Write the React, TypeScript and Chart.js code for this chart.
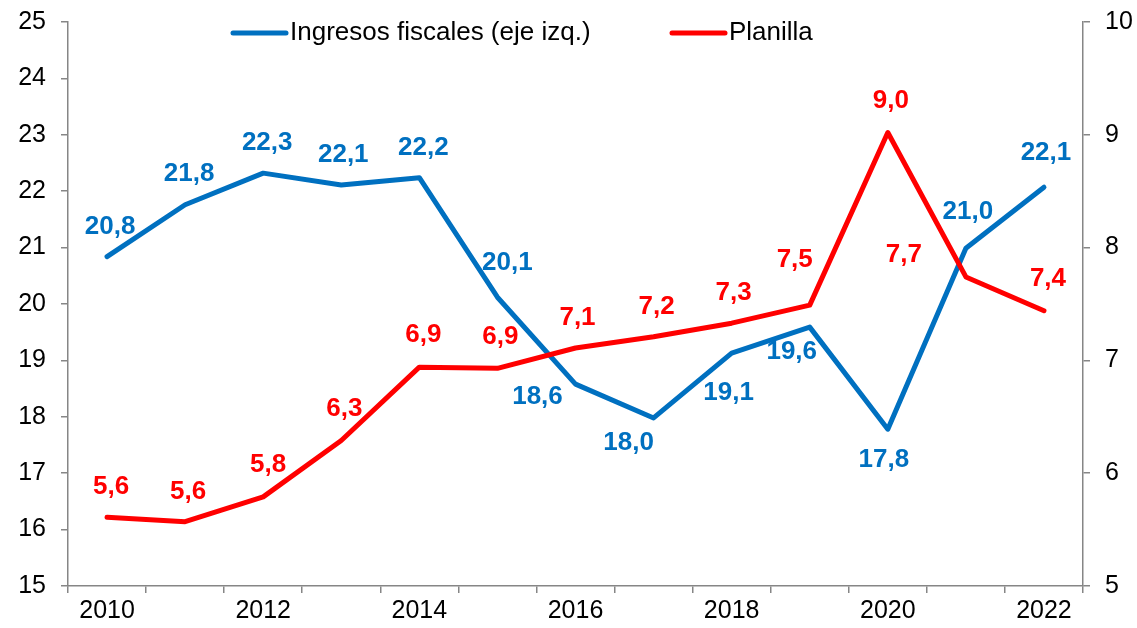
import React, { useEffect, useRef } from "react";
import { Chart, registerables } from "chart.js";

Chart.register(...registerables);

const years = ["2010", "2011", "2012", "2013", "2014", "2015", "2016", "2017", "2018", "2019", "2020", "2021", "2022"];
const ingresosFiscales = [20.84, 21.76, 22.32, 22.11, 22.24, 20.12, 18.58, 17.98, 19.13, 19.59, 17.78, 20.99, 22.07];
const planilla = [5.61, 5.57, 5.79, 6.29, 6.94, 6.93, 7.11, 7.21, 7.33, 7.49, 9.02, 7.74, 7.44];
const leftTicks = { min: 15, max: 25, step: 1 };
const rightTicks = { min: 5, max: 10, step: 1 };
const seriesNames = ["Ingresos fiscales (eje izq.)", "Planilla"];

const BLUE = "#0070C0";
const RED = "#FF0000";
const AXIS = "#868686";
const FONT = "'Liberation Sans', Arial, sans-serif";

// label offsets relative to each point (styling only)
const blueLabelOffsets = [[3, -30], [4, -31], [4, -30], [2, -30], [4, -30], [10, -34], [-38, 13], [-25, 25], [-3, 40], [-18, 25], [-4, 31], [2, -36], [2, -34]];
const redLabelOffsets = [[4, -30], [3, -30], [5, -32], [3, -32], [4, -32], [3, -31], [2, -30], [3, -30], [2, -30], [-15, -45], [3, -32], [-62, -22], [4, -32]];

const fmt = (v: number) => v.toFixed(1).replace(".", ",");

const labelPlugin = {
  id: "pointLabels",
  afterDatasetsDraw(chart: any) {
    const ctx = chart.ctx;
    ctx.save();
    ctx.font = `bold 26px ${FONT}`;
    ctx.textAlign = "center";
    ctx.textBaseline = "middle";
    chart.data.datasets.forEach((ds: any, di: number) => {
      const meta = chart.getDatasetMeta(di);
      const offs = ds.yAxisID === "y" ? blueLabelOffsets : redLabelOffsets;
      ctx.fillStyle = ds.borderColor;
      meta.data.forEach((pt: any, i: number) => {
        const o = offs[i] || [0, -30];
        ctx.fillText(fmt(ds.data[i]), pt.x + o[0], pt.y + o[1]);
      });
    });
    ctx.restore();
  },
};

const legendPlugin = {
  id: "customLegend",
  afterDraw(chart: any) {
    const ctx = chart.ctx;
    const y = chart.chartArea.top + 11;
    const items = [
      { name: seriesNames[0], color: BLUE, x: 233 },
      { name: seriesNames[1], color: RED, x: 672 },
    ];
    ctx.save();
    ctx.font = `26px ${FONT}`;
    ctx.textBaseline = "middle";
    ctx.textAlign = "left";
    items.forEach((it) => {
      ctx.strokeStyle = it.color;
      ctx.lineWidth = 5;
      ctx.lineCap = "round";
      ctx.beginPath();
      ctx.moveTo(it.x, y);
      ctx.lineTo(it.x + 53, y);
      ctx.stroke();
      ctx.fillStyle = "#000";
      ctx.fillText(it.name, it.x + 57, y);
    });
    ctx.restore();
  },
};

const fitY = (w: number) => (s: any) => {
  s.width = w;
  s.paddingTop = 0;
  s.paddingBottom = 0;
};

export default function App() {
  const ref = useRef<HTMLCanvasElement | null>(null);
  useEffect(() => {
    if (!ref.current) return;
    const chart = new Chart(ref.current, {
      type: "line",
      data: {
        labels: years,
        datasets: [
          {
            label: seriesNames[0],
            data: ingresosFiscales,
            borderColor: BLUE,
            backgroundColor: BLUE,
            borderWidth: 5,
            pointRadius: 0,
            tension: 0,
            borderJoinStyle: "round",
            borderCapStyle: "round",
            yAxisID: "y",
            order: 1,
          },
          {
            label: seriesNames[1],
            data: planilla,
            borderColor: RED,
            backgroundColor: RED,
            borderWidth: 5,
            pointRadius: 0,
            tension: 0,
            borderJoinStyle: "round",
            borderCapStyle: "round",
            yAxisID: "y1",
            order: 0,
          },
        ],
      },
      options: {
        animation: false,
        responsive: true,
        maintainAspectRatio: false,
        layout: { padding: { top: 22, bottom: 0, left: 0, right: 0 } },
        plugins: { legend: { display: false }, tooltip: { enabled: false } },
        scales: {
          x: {
            type: "category",
            offset: true,
            grid: { offset: true, drawOnChartArea: false, tickLength: 7, color: AXIS, lineWidth: 1.5 },
            border: { color: AXIS, width: 1.5 },
            ticks: {
              autoSkip: false,
              maxRotation: 0,
              color: "#000",
              padding: 3,
              font: { family: FONT, size: 25 },
              callback: (_v: any, i: number) => (i % 2 === 0 ? years[i] : ""),
            },
            afterFit: (s: any) => { s.height = 42; s.paddingLeft = 0; s.paddingRight = 0; },
          },
          y: {
            position: "left",
            min: leftTicks.min,
            max: leftTicks.max,
            grid: { drawOnChartArea: false, tickLength: 7, color: AXIS, lineWidth: 1.5 },
            border: { color: AXIS, width: 1.5 },
            ticks: { stepSize: leftTicks.step, color: "#000", padding: 15, font: { family: FONT, size: 25 } },
            afterFit: fitY(68),
          },
          y1: {
            position: "right",
            min: rightTicks.min,
            max: rightTicks.max,
            grid: { drawOnChartArea: false, tickLength: 7, color: AXIS, lineWidth: 1.5 },
            border: { color: AXIS, width: 1.5 },
            ticks: { stepSize: rightTicks.step, color: "#000", padding: 15, font: { family: FONT, size: 25 } },
            afterFit: fitY(54),
          },
        },
      },
      plugins: [labelPlugin, legendPlugin],
    } as any);
    return () => chart.destroy();
  }, []);
  return (
    <div style={{ position: "fixed", left: 0, top: 0, width: 1137, height: 628, background: "#fff" }}>
      <canvas ref={ref} />
    </div>
  );
}
